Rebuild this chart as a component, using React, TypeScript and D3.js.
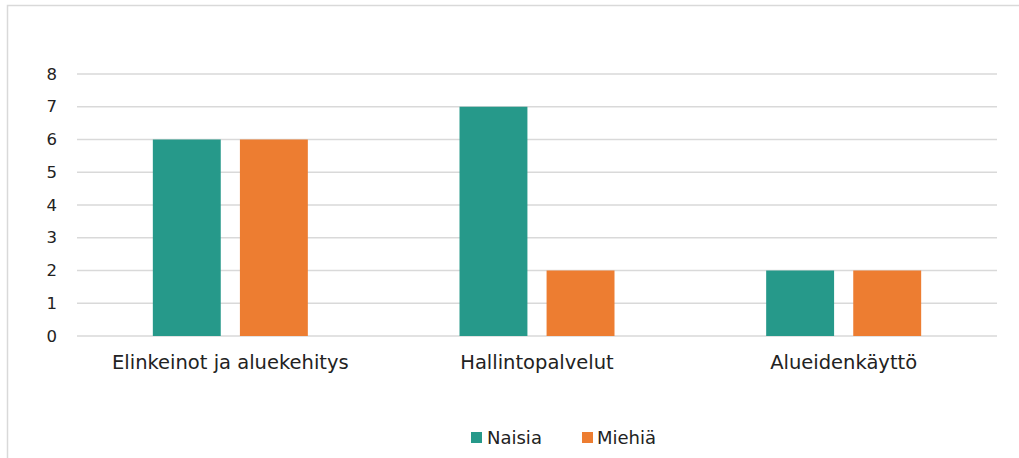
import React from "react";
import * as d3 from "d3";

const categories = ["Elinkeinot ja aluekehitys", "Hallintopalvelut", "Alueidenkäyttö"];
const seriesNames = ["Naisia", "Miehiä"];
const naisia = [6, 7, 2];
const miehia = [6, 2, 2];
const yTicks = [0, 1, 2, 3, 4, 5, 6, 7, 8];
const colors = ["#26998a", "#ed7d31"];

export default function App() {
  const W = 1019, H = 458;
  const left = 77, right = 997, top = 74, bottom = 336;
  const font = "'DejaVu Sans', sans-serif";
  const x = d3.scaleBand<string>().domain(categories).range([left, right]);
  const inner = d3.scaleBand<string>().domain(seriesNames).range([0, 155]).paddingInner(0.22);
  const y = d3.scaleLinear().domain([0, 8]).range([bottom, top]);
  const values = [naisia, miehia];
  return (
    <svg width={W} height={H} style={{ position: "absolute", left: 0, top: 0 }} fontFamily={font}>
      <rect x={0} y={0} width={W} height={H} fill="#fff" />
      <rect x={7.5} y={5.5} width={W} height={H} fill="none" stroke="#d9d9d9" strokeWidth={1.5} />
      {yTicks.map((t) => (
        <g key={t}>
          <line x1={left} x2={right} y1={y(t)} y2={y(t)} stroke="#d9d9d9" strokeWidth={1.5} />
          <text x={57} y={y(t) + 5.5} textAnchor="end" fontSize={16.5} fill="#222">{t}</text>
        </g>
      ))}
      {categories.map((c, i) => {
        const cx = x(c)! + x.bandwidth() / 2;
        const start = cx - 155 / 2;
        return (
          <g key={c}>
            {seriesNames.map((s, j) => (
              <rect key={s} x={start + inner(s)!} width={inner.bandwidth()} y={y(values[j][i])} height={y(0) - y(values[j][i])} fill={colors[j]} />
            ))}
            <text x={cx} y={369} textAnchor="middle" fontSize={19.5} fill="#222">{c}</text>
          </g>
        );
      })}
      <g>
        <rect x={471} y={432} width={11} height={11} fill={colors[0]} />
        <text x={487} y={444} fontSize={18} fill="#222">{seriesNames[0]}</text>
        <rect x={582} y={432} width={11} height={11} fill={colors[1]} />
        <text x={597} y={444} fontSize={18} fill="#222">{seriesNames[1]}</text>
      </g>
    </svg>
  );
}
